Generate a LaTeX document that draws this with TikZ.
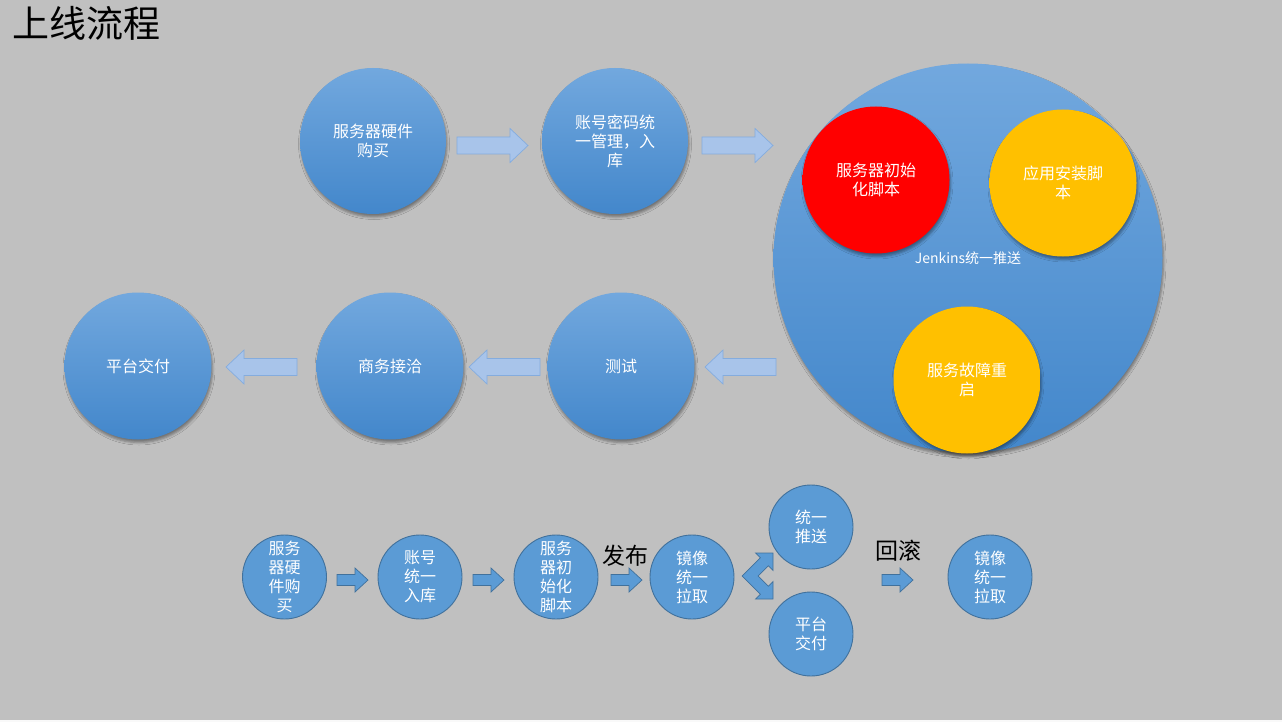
\documentclass[tikz,border=0pt]{standalone}
\usepackage{fontspec}
\setmainfont{Noto Sans CJK SC}
\usetikzlibrary{shadows.blur}

\definecolor{bg}{RGB}{192,192,192}
\definecolor{ctop}{RGB}{114,168,222}
\definecolor{cbot}{RGB}{67,135,203}
\definecolor{flat}{RGB}{91,155,213}
\definecolor{flatline}{RGB}{65,113,156}
\definecolor{arrfill}{RGB}{168,196,234}
\definecolor{arrline}{RGB}{132,172,222}
\definecolor{scriptred}{RGB}{255,0,0}
\definecolor{scriptorange}{RGB}{255,192,0}

\tikzset{
  bigarr/.pic={\path[pic actions] (0,-8.5) -- (53,-8.5) -- (53,-17)
      -- (71,0) -- (53,17) -- (53,8.5) -- (0,8.5) -- cycle;},
  smallarr/.pic={\path[pic actions] (0,-5.5) -- (18,-5.5) -- (18,-12)
      -- (31,0) -- (18,12) -- (18,5.5) -- (0,5.5) -- cycle;}
}

\begin{document}
\begin{tikzpicture}[x=1pt, y=-1pt]
   \tikzstyle{shad} = [blur shadow={shadow xshift=1pt, shadow yshift=-3pt,
                       shadow blur radius=2.5pt, shadow opacity=40}];
   \tikzstyle{big} = [circle, minimum size=146pt, inner sep=0pt,
                      text=white, align=center,
                      font=\fontsize{16}{19}\selectfont,
                      top color=ctop, bottom color=cbot, shad];
   \tikzstyle{script} = [big, minimum size=147pt, shading=axis,
                         top color=#1, bottom color=#1];
   \tikzstyle{small} = [circle, minimum size=84pt, inner sep=0pt,
                        fill=flat, draw=flatline, line width=0.9pt,
                        text=white, align=center,
                        font=\fontsize{16}{19}\selectfont];
   \tikzstyle{barr} = [fill=arrfill, draw=arrline, line width=0.7pt];
   \tikzstyle{sarr} = [fill=flat, draw=flatline, line width=0.7pt];
   \tikzstyle{word} = [black, inner sep=0pt, font=\fontsize{23}{23}\selectfont];

   \useasboundingbox (0,0) rectangle (1282,722);
   \fill[bg] (0,0) rectangle (1282,722);
   \fill[white!90!bg] (0,720) rectangle (1282,722);

   \node[word, anchor=west, font=\fontsize{37}{37}\selectfont]
        (title) at (12,23) {上线流程};

   %% top row
   \node[big] (buy) at (373,141) {服务器硬件\\购买};
   \node[big] (acct) at (615,141) {账号密码统\\一管理，入\\库};
   \pic[barr] at (457,145.5) {bigarr};
   \pic[barr] at (702,145.5) {bigarr};

   %% jenkins
   \node[big, minimum size=389pt, font=\fontsize{14}{14}\selectfont]
        (jenkins) at (968,258) {Jenkins统一推送};
   \node[script=scriptred] (init) at (876,180) {服务器初始\\化脚本};
   \node[script=scriptorange] (app) at (1063,183) {应用安装脚\\本};
   \node[script=scriptorange] (restart) at (967,380) {服务故障重\\启};

   %% middle row
   \node[big, minimum size=147pt] (deliver) at (138,366) {平台交付};
   \node[big, minimum size=147pt] (biz) at (390,366) {商务接洽};
   \node[big, minimum size=147pt] (test) at (621,366) {测试};
   \pic[barr, xscale=-1] at (297,367) {bigarr};
   \pic[barr, xscale=-1] at (540,367) {bigarr};
   \pic[barr, xscale=-1] at (776,367) {bigarr};

   %% bottom row
   \node[small] (b1) at (284.5,577) {服务\\器硬\\件购\\买};
   \node[small] (b2) at (420,577) {账号\\统一\\入库};
   \node[small] (b3) at (556,577) {服务\\器初\\始化\\脚本};
   \node[small] (b4) at (692,577) {镜像\\统一\\拉取};
   \node[small] (b5) at (811,527) {统一\\推送};
   \node[small] (b6) at (811,634) {平台\\交付};
   \node[small] (b7) at (990,577) {镜像\\统一\\拉取};

   \pic[sarr] at (337,580) {smallarr};
   \pic[sarr] at (473,580) {smallarr};
   \pic[sarr] at (611,580) {smallarr};
   \pic[sarr] at (882,580) {smallarr};

   \node[word] (pub) at (625,556) {发布};
   \node[word] (back) at (898,551) {回滚};

   %% split arrow
   \draw[sarr] (742,576) -- (760.25,557.75) -- (755.5,553) -- (773,553)
      -- (773,570.5) -- (768.25,565.75) -- (758,576) -- (768.25,586.25)
      -- (773,581.5) -- (773,599) -- (755.5,599) -- (760.25,594.25)
      -- cycle;

\end{tikzpicture}
\end{document}
